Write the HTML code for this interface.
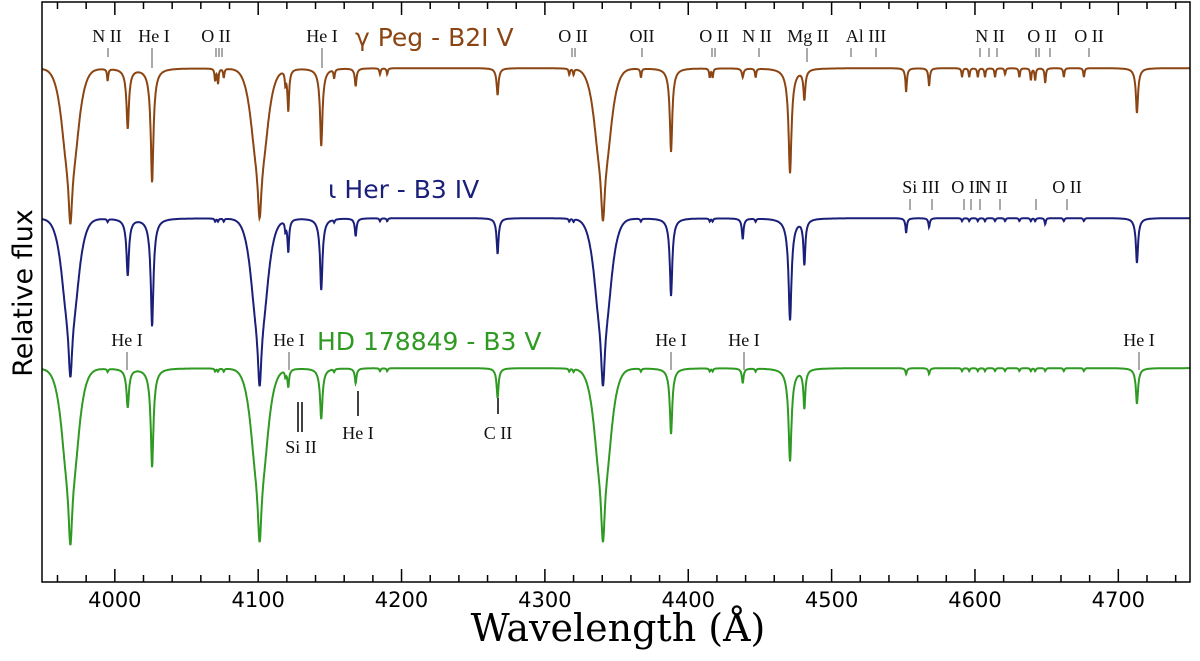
<!DOCTYPE html>
<html><head><meta charset="utf-8"><style>
body{margin:0;background:#fff}
</style></head><body>
<svg id="c" width="1200" height="656" xmlns="http://www.w3.org/2000/svg"></svg>
<script>
// ---- data ----
const lineCenters = [3969,4009,4026,4101,4121,4144,4168,4267,4340.5,4388,4438,4471,4481,4552,4568,4713];
const lineWidths  = [1.5, 0.9, 1.0, 1.5, 0.6, 0.9, 0.6, 0.7, 1.5, 0.9, 0.6, 1.1, 0.7, 0.5, 0.5, 0.8];
const isBalmer    = [1,0,0,1,0,0,0,0,1,0,0,0,0,0,0,0];
const depthsPeg   = [0.52,0.20,0.38,0.50,0.14,0.26,0.06,0.09,0.51,0.28,0.03,0.35,0.10,0.08,0.06,0.15];
const depthsHer   = [0.53,0.19,0.36,0.56,0.11,0.24,0.06,0.12,0.56,0.26,0.07,0.34,0.15,0.05,0.03,0.15];
const depthsHD    = [0.59,0.13,0.33,0.58,0.06,0.17,0.05,0.10,0.58,0.22,0.05,0.31,0.13,0.02,0.02,0.12];
const metalCenters = [3995,4070,4072,4076,4119,4153,4185,4190,4317,4320,4367,4415,4417,4447,4591,4596,4602,4607,4614,4621,4631,4639,4642,4649,4662,4676];
const metalPeg     = [0.04,0.04,0.05,0.03,0.04,0.03,0.02,0.02,0.02,0.02,0.03,0.03,0.03,0.03,0.03,0.03,0.03,0.03,0.03,0.02,0.03,0.04,0.04,0.05,0.03,0.03];
const metalHer     = [0.01,0.01,0.01,0.01,0.03,0.01,0.01,0.01,0.01,0.01,0.01,0.01,0.01,0.01,0.01,0.01,0.01,0.01,0.01,0.01,0.01,0.01,0.01,0.02,0.01,0.01];
const metalHD      = [0.01,0.01,0.01,0.01,0.02,0.01,0.01,0.01,0.01,0.01,0.01,0.01,0.01,0.01,0.01,0.01,0.01,0.01,0.01,0.01,0.01,0.01,0.01,0.01,0.01,0.01];
const offsets = [1.0, 0.5, 0.0];
const xTicks = [4000,4100,4200,4300,4400,4500,4600,4700];

// ---- scales ----
const X0=42,X1=1190,Y0=2,Y1=582;
const xmin=3949.2,xmax=4750, ymin=0.287, ymax=ymin+(Y1-Y0)/300;
const xs=v=>X0+(v-xmin)/(xmax-xmin)*(X1-X0);
const ys=v=>Y1-(v-ymin)/(ymax-ymin)*(Y1-Y0);
const svg=document.getElementById('c');
const NS='http://www.w3.org/2000/svg';
function mk(tag,attrs,parent){const e=document.createElementNS(NS,tag);for(const k in attrs)e.setAttribute(k,attrs[k]);(parent||svg).appendChild(e);return e;}

function flux(x,depths,metals){
  let f=1;
  for(let i=0;i<lineCenters.length;i++){
    const d=(x-lineCenters[i])/lineWidths[i];
    if(isBalmer[i]){const w=d/4;f-=depths[i]*(0.4/(1+d*d)+0.6*Math.exp(-w*w*0.5)*0.6+0.24/(1+w*w*w*w));}
    else f-=depths[i]*(0.8/(1+d*d)+0.2/(1+(d/2.5)*(d/2.5)));
  }
  for(let i=0;i<metalCenters.length;i++){const d=(x-metalCenters[i])/0.5;f-=metals[i]/(1+d*d);}
  return f;
}
const series=[[depthsPeg,metalPeg,'#8b4513','spectrum-gamma-peg'],[depthsHer,metalHer,'#1a1f7a','spectrum-iota-her'],[depthsHD,metalHD,'#2e9a22','spectrum-hd178849']];
series.forEach((s,k)=>{
  let d='';
  for(let x=xmin;x<=xmax;x+=0.25){d+=(d?'L':'M')+xs(x).toFixed(1)+','+ys(offsets[k]+flux(x,s[0],s[1])).toFixed(1);}
  const p=mk('path',{d:d,fill:'none',stroke:s[2],'stroke-width':2});
  
  
});

// ---- axes ----
const frame=mk('rect',{x:X0,y:Y0,width:X1-X0,height:Y1-Y0,fill:'none',stroke:'#000','stroke-width':1.5});


for(let v=3960;v<=4740;v+=20){
  const major=v%100===0, L=major?13:7, x=xs(v);
  const t1=mk('line',{x1:x,x2:x,y1:Y1,y2:Y1-L,stroke:'#000','stroke-width':1.5});
  
  
  const t2=mk('line',{x1:x,x2:x,y1:Y0,y2:Y0+L,stroke:'#000','stroke-width':1.5});
  
  
}
xTicks.forEach(v=>{
  const t=mk('text',{x:xs(v),y:607,'text-anchor':'middle','font-size':21,'font-family':'DejaVu Sans, Liberation Sans, sans-serif'});t.textContent=v;
  
  
});
</script>
<svg width="1200" height="656" style="position:absolute;left:0;top:0" xmlns="http://www.w3.org/2000/svg">
<text x="618" y="641" text-anchor="middle" font-size="38" font-family="DejaVu Serif, Liberation Serif, serif">Wavelength (Å)</text>
<text transform="translate(32,293) rotate(-90)" text-anchor="middle" font-size="27" font-family="DejaVu Sans, Liberation Sans, sans-serif">Relative flux</text>
<g font-size="25" font-family="DejaVu Sans, Liberation Sans, sans-serif">
<text x="355" y="46" fill="#8b4513">γ Peg - B2I V</text>
<text x="328" y="198" fill="#1a1f7a">ι Her - B3 IV</text>
<text x="317" y="350" fill="#2e9a22">HD 178849 - B3 V</text>
</g>
<g font-size="18" fill="#111" text-anchor="middle" font-family="Liberation Serif, DejaVu Serif, serif">
<text x="107" y="42">N II</text><text x="154" y="42">He I</text><text x="216" y="42">O II</text><text x="322" y="42">He I</text>
<text x="573" y="42">O II</text><text x="642" y="42">OII</text><text x="714" y="42">O II</text><text x="757" y="42">N II</text>
<text x="808" y="42">Mg II</text><text x="866" y="42">Al III</text><text x="990" y="42">N II</text><text x="1042" y="42">O II</text><text x="1089" y="42">O II</text>
<text x="921" y="193">Si III</text><text x="966" y="193">O II</text><text x="993" y="193">N II</text><text x="1067" y="193">O II</text>
<text x="127" y="346">He I</text><text x="289" y="346">He I</text><text x="671" y="346">He I</text><text x="744" y="346">He I</text><text x="1139" y="346">He I</text>
<text x="301" y="453">Si II</text><text x="358" y="439">He I</text><text x="498" y="439">C II</text>
</g>
<g stroke="#555" stroke-width="1">
<path d="M108,48V57M152,48V68M216,48V57M219,48V57M222,48V57M322,48V68M572,48V57M575,48V57M642,48V57M712,48V57M715,48V57M759,48V57M807,48V62M851,48V57M876,48V57M980,48V57M989,48V57M997,48V57M1036,48V57M1039,48V57M1050,48V57M1089,48V57"/>
<path d="M910,199V210M932,199V210M964,199V210M971,199V210M980,199V210M1000,199V210M1036,199V210M1067,199V210"/>
<path d="M127,352V370M289,352V370M671,352V370M744,352V370M1139,352V370"/>
<path stroke="#000" stroke-width="1.5" d="M298,402V432M302,402V432M358,391V416M498,398V414"/>
</g>
</svg>
</body></html>
